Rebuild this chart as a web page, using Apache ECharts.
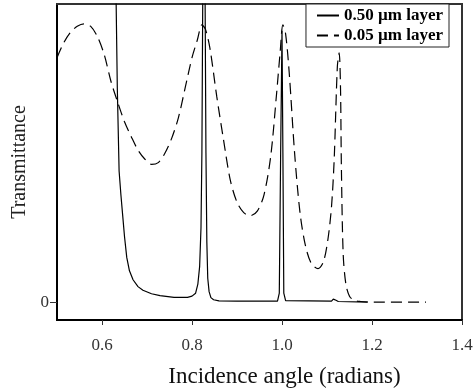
<!DOCTYPE html>
<html>
<head>
<meta charset="utf-8">
<script src="https://cdn.jsdelivr.net/npm/echarts@6/dist/echarts.min.js"></script>
<style>
  html, body { margin: 0; padding: 0; background: #fff; }
  #chart { width: 476px; height: 388px; }
</style>
</head>
<body>
<div id="chart"></div>
<script>
// thick layer (solid)
const thickAngle = [0.631, 0.634, 0.638, 0.642, 0.646, 0.650, 0.655, 0.661, 0.669, 0.680, 0.691, 0.710, 0.729, 0.760, 0.790, 0.800, 0.808, 0.813, 0.817, 0.820, 0.822, 0.824, 0.829, 0.831, 0.833, 0.835, 0.838, 0.842, 0.848, 0.860, 0.900, 0.990, 0.994, 0.997, 1.000, 1.002, 1.004, 1.008, 1.110, 1.114, 1.117, 1.120, 1.125, 1.190];
const thickT = [1.05, 0.72, 0.44, 0.36, 0.29, 0.22, 0.15, 0.105, 0.075, 0.052, 0.040, 0.028, 0.022, 0.016, 0.016, 0.02, 0.03, 0.06, 0.12, 0.25, 0.50, 1.05, 1.05, 0.5, 0.2, 0.08, 0.035, 0.015, 0.008, 0.004, 0.003, 0.003, 0.03, 0.5, 0.91, 0.5, 0.03, 0.005, 0.003, 0.01, 0.014, 0.006, 0.002, 0.0];

// thin layer (dashed)
const thinAngle = [0.500, 0.515, 0.530, 0.545, 0.560, 0.575, 0.590, 0.605, 0.620, 0.635, 0.650, 0.665, 0.680, 0.695, 0.710, 0.725, 0.740, 0.755, 0.770, 0.785, 0.800, 0.812, 0.822, 0.830, 0.840, 0.855, 0.870, 0.885, 0.900, 0.915, 0.930, 0.945, 0.960, 0.975, 0.988, 0.996, 1.002, 1.008, 1.016, 1.028, 1.040, 1.052, 1.065, 1.080, 1.092, 1.102, 1.110, 1.116, 1.123, 1.127, 1.130, 1.132, 1.136, 1.142, 1.150, 1.160, 1.175, 1.200, 1.320];
const thinT = [0.82, 0.87, 0.905, 0.925, 0.933, 0.925, 0.89, 0.83, 0.74, 0.67, 0.605, 0.555, 0.51, 0.48, 0.462, 0.468, 0.50, 0.55, 0.62, 0.72, 0.82, 0.88, 0.93, 0.915, 0.85, 0.69, 0.545, 0.41, 0.335, 0.30, 0.29, 0.305, 0.36, 0.49, 0.70, 0.84, 0.93, 0.90, 0.77, 0.50, 0.30, 0.19, 0.13, 0.112, 0.135, 0.21, 0.32, 0.48, 0.79, 0.836, 0.72, 0.45, 0.16, 0.06, 0.02, 0.006, 0.002, 0.0, 0.0];

const xTicks = [0.6, 0.8, 1.0, 1.2, 1.4];
const yTicks = [0];
const seriesNames = ['0.50 \u00b5m layer', '0.05 \u00b5m layer'];

const chart = echarts.init(document.getElementById('chart'));
const serif = '"Liberation Serif", "DejaVu Serif", serif';

const pairs = (xs, ys) => xs.map((x, i) => [x, ys[i]]);

chart.setOption({
  animation: false,
  backgroundColor: '#fff',
  grid: {
    left: 57, right: 14, top: 4, bottom: 68,
    outerBoundsMode: 'none',
    show: true, borderColor: '#333', borderWidth: 2
  },
  legend: {
    orient: 'vertical',
    right: 27, top: 4,
    itemWidth: 22, itemHeight: 10, itemGap: 3,
    padding: [3, 6, 3, 10],
    backgroundColor: '#fff',
    borderColor: '#222', borderWidth: 1,
    itemStyle: { opacity: 0 },
    textStyle: { fontFamily: serif, fontSize: 17, fontWeight: 'bold', color: '#000' },
    data: seriesNames
  },
  xAxis: [
    {
      type: 'value', min: 0.5, max: 1.4, position: 'bottom',
      name: 'Incidence angle (radians)',
      nameLocation: 'middle', nameGap: 45,
      nameTextStyle: { fontFamily: serif, fontSize: 23, color: '#111', padding: [0, 0, 0, 50] },
      axisLine: { show: true, onZero: false, lineStyle: { color: '#000', width: 2 } },
      axisTick: { show: true, length: 5, customValues: xTicks, lineStyle: { color: '#333' } },
      axisLabel: {
        customValues: xTicks, margin: 17,
        fontFamily: serif, fontSize: 17, color: '#333',
        formatter: v => v.toFixed(1)
      },
      splitLine: { show: false }
    },
    {
      type: 'value', min: 0.5, max: 1.4, position: 'top',
      axisLine: { show: true, onZero: false, lineStyle: { color: '#333', width: 2 } },
      axisTick: { show: false }, axisLabel: { show: false }, splitLine: { show: false }
    }
  ],
  yAxis: {
    type: 'value', min: -0.06, max: 1, position: 'left',
    name: 'Transmittance',
    nameLocation: 'middle', nameGap: 19,
    nameTextStyle: { fontFamily: serif, fontSize: 20, color: '#222' },
    axisLine: { show: true, onZero: false, lineStyle: { color: '#000', width: 2 } },
    axisTick: { show: true, length: 7, customValues: yTicks, lineStyle: { color: '#333' } },
    axisLabel: { customValues: yTicks, margin: 8, fontFamily: serif, fontSize: 17, color: '#333' },
    splitLine: { show: false }
  },
  series: [
    {
      name: seriesNames[0],
      type: 'line',
      data: pairs(thickAngle, thickT),
      symbol: 'none',
      clip: true,
      lineStyle: { color: '#000', width: 1.2, type: 'solid' },
      itemStyle: { color: '#000' }
    },
    {
      name: seriesNames[1],
      type: 'line',
      data: pairs(thinAngle, thinT),
      symbol: 'none',
      smooth: 0.3,
      clip: true,
      lineStyle: { color: '#000', width: 1.2, type: [11, 6] },
      itemStyle: { color: '#000' }
    }
  ]
});
</script>
</body>
</html>
